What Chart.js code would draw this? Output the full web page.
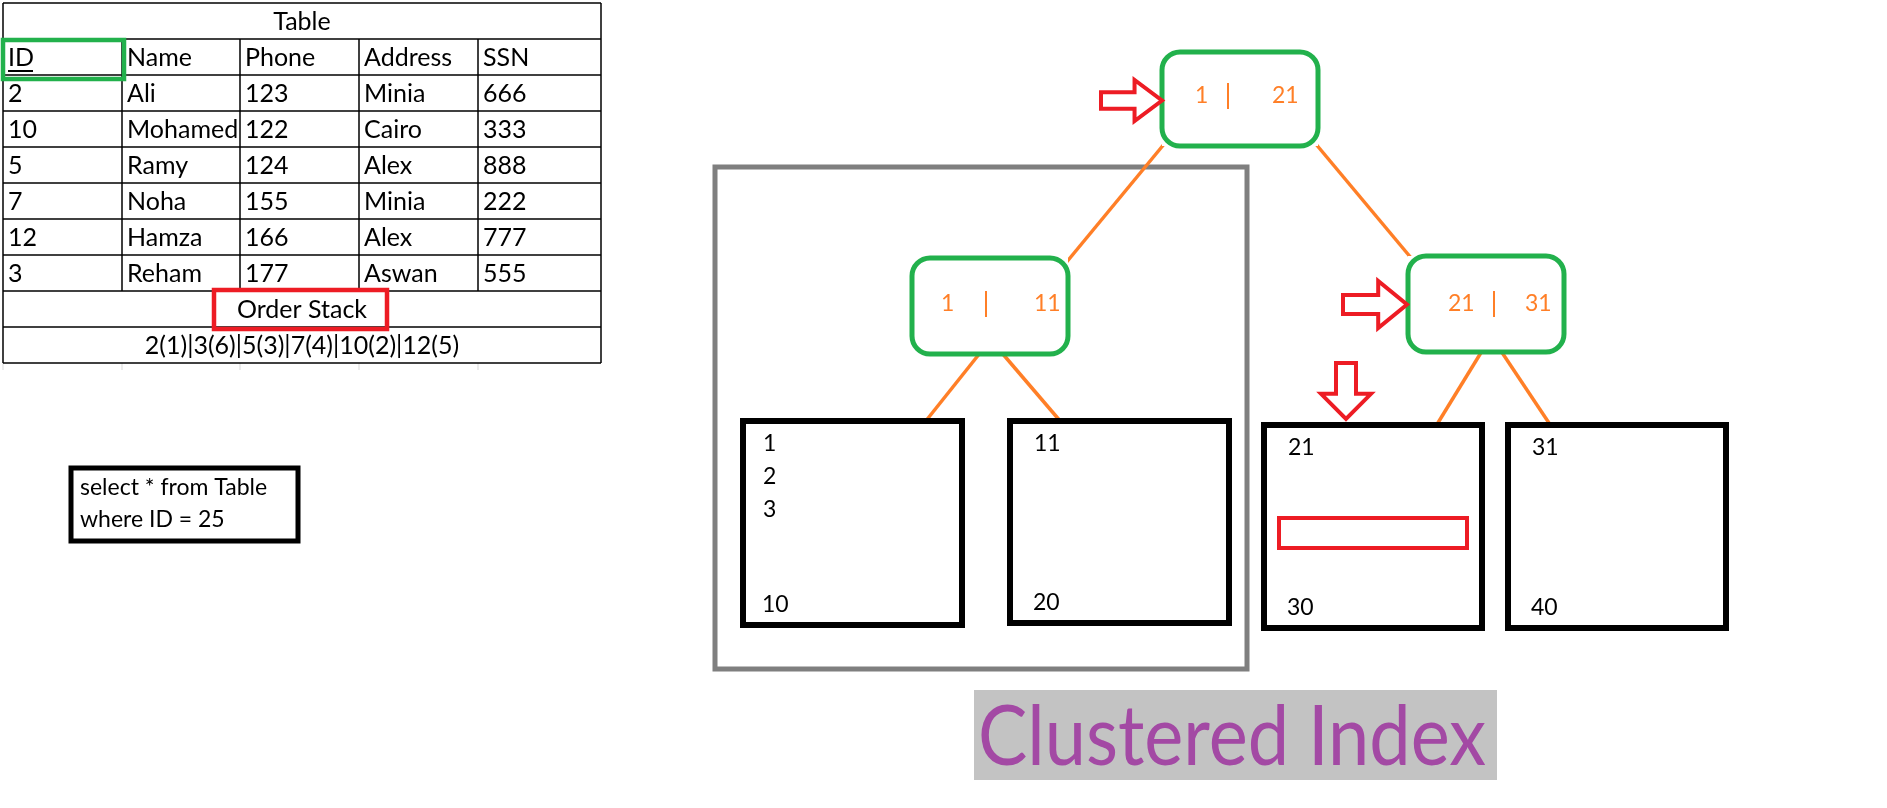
<!DOCTYPE html>
<html>
<head>
<meta charset="utf-8">
<script src="https://cdn.jsdelivr.net/npm/chart.js@4"></script>
<style>
  html,body{margin:0;padding:0;background:#fff;}
  #c{display:block;}
</style>
</head>
<body>
<canvas id="c" width="1887" height="808"></canvas>
<script>
/* ---------------- data ---------------- */
const tableTitle  = 'Table';
const columns     = ['ID','Name','Phone','Address','SSN'];
const rowIds      = ['2','10','5','7','12','3'];
const rowNames    = ['Ali','Mohamed','Ramy','Noha','Hamza','Reham'];
const rowPhones   = ['123','122','124','155','166','177'];
const rowAddress  = ['Minia','Cairo','Alex','Minia','Alex','Aswan'];
const rowSsn      = ['666','333','888','222','777','555'];
const stackLabel  = 'Order Stack';
const stackText   = '2(1)|3(6)|5(3)|7(4)|10(2)|12(5)';
const queryLines  = ['select * from Table','where ID = 25'];
const nodeKeys    = [['1','21'],['1','11'],['21','31']];
const leafTop     = [['1','2','3'],['11'],['21'],['31']];
const leafBottom  = ['10','20','30','40'];
const caption     = 'Clustered Index';

/* ---------------- layout (picture units) ---------------- */
const colX  = [3,122,240,359,478,601];
const rowY  = [3,39,75,111,147,183,219,255,291,327,363];
const nodes = [[1162,52,1318,146],[912,258,1068,354],[1408,256,1564,352]];
const nodeText = [[1195,1228,1272,96],[941,986,1034,304],[1448,1494,1525,304]];
const leaves = [[743,421,962,625],[1010,421,1229,623],[1264,425,1482,628],[1508,425,1726,628]];
const edges = [[1165,143,1065,264],[1315,143,1412,259],[980,353,925,422],[1002,353,1061,422],[1482,351,1436,426],[1501,351,1551,426]];

const GREEN='#22b14c', ORANGE='#ff7f27', RED='#ed1c24', GREY='#7f7f7f', PURPLE='#a349a4';
const FONT='Lato, "Open Sans", sans-serif';

const drawPlugin = {
  id:'diagram',
  afterDraw(chart){
    const ctx=chart.ctx, sx=chart.scales.x, sy=chart.scales.y;
    const X=v=>sx.getPixelForValue(v), Y=v=>sy.getPixelForValue(v);
    const rect=(x0,y0,x1,y1,col,w)=>{ctx.strokeStyle=col;ctx.lineWidth=w;ctx.strokeRect(X(x0),Y(y0),X(x1)-X(x0),Y(y1)-Y(y0));};
    const line=(x0,y0,x1,y1,col,w)=>{ctx.strokeStyle=col;ctx.lineWidth=w;ctx.beginPath();ctx.moveTo(X(x0),Y(y0));ctx.lineTo(X(x1),Y(y1));ctx.stroke();};
    const text=(s,x,y,size,col,align,maxW)=>{ctx.font=size+'px '+FONT;ctx.fillStyle=col;ctx.textAlign=align||'left';ctx.textBaseline='middle';
      if(maxW) ctx.fillText(s,X(x),Y(y),maxW); else ctx.fillText(s,X(x),Y(y));};
    const rrect=(x0,y0,x1,y1,r,col,w)=>{
      const a=X(x0),b=Y(y0),c=X(x1),d=Y(y1);
      ctx.strokeStyle=col;ctx.lineWidth=w;ctx.beginPath();
      ctx.moveTo(a+r,b);ctx.arcTo(c,b,c,d,r);ctx.arcTo(c,d,a,d,r);ctx.arcTo(a,d,a,b,r);ctx.arcTo(a,b,c,b,r);ctx.closePath();ctx.stroke();};
    const poly=(pts,col,w)=>{ctx.strokeStyle=col;ctx.lineWidth=w;ctx.lineJoin='miter';ctx.beginPath();
      pts.forEach((p,i)=>i?ctx.lineTo(X(p[0]),Y(p[1])):ctx.moveTo(X(p[0]),Y(p[1])));ctx.closePath();ctx.stroke();};
    const arrowRight=(x0,y0,x1,y1)=>{const w=x1-x0,h=y1-y0,m=(y0+y1)/2,sx2=x0+w*0.55;
      poly([[x0,m-h*0.2],[sx2,m-h*0.2],[sx2,y0],[x1,m],[sx2,y1],[sx2,m+h*0.2],[x0,m+h*0.2]],RED,4);};
    const arrowDown=(x0,y0,x1,y1)=>{const w=x1-x0,h=y1-y0,m=(x0+x1)/2,sy2=y0+h*0.55;
      poly([[m-w*0.2,y0],[m+w*0.2,y0],[m+w*0.2,sy2],[x1,sy2],[m,y1],[x0,sy2],[m-w*0.2,sy2]],RED,4);};

    ctx.save();
    ctx.lineCap='butt';
    /* faint sheet gridlines below table */
    colX.slice(0,5).forEach(x=>line(x,363,x,370,'#d9d9d9',1));
    /* table grid */
    rowY.forEach(y=>line(colX[0],y,colX[5],y,'#000',1.5));
    line(colX[0],rowY[0],colX[0],rowY[10],'#000',1.5);
    line(colX[5],rowY[0],colX[5],rowY[10],'#000',1.5);
    for(let i=1;i<5;i++) line(colX[i],rowY[1],colX[i],rowY[8],'#000',1.5);
    text(tableTitle,(colX[0]+colX[5])/2,rowY[0]+19,25,'#000','center');
    const rows=[columns,...rowIds.map((id,i)=>[id,rowNames[i],rowPhones[i],rowAddress[i],rowSsn[i]])];
    rows.forEach((r,ri)=>r.forEach((s,ci)=>text(s,colX[ci]+5,rowY[ri+1]+19,25,'#000','left',colX[ci+1]-colX[ci]-3)));
    /* underline ID */
    line(colX[0]+5,rowY[1]+32,colX[0]+30,rowY[1]+32,'#000',2);
    rect(3,40,124,79,GREEN,4.5);
    text(stackLabel,(colX[0]+colX[5])/2,rowY[8]+19,25,'#000','center');
    rect(214,290,387,329,RED,4.5);
    text(stackText,(colX[0]+colX[5])/2,rowY[9]+19,25,'#000','center',355);
    /* query box */
    rect(71,468,298,541,'#000',5);
    queryLines.forEach((s,i)=>text(s,80,488+i*32,23,'#000','left',210));
    /* grey subtree box */
    rect(715,167,1247,669,GREY,5);
    /* edges */
    edges.forEach(e=>line(e[0],e[1],e[2],e[3],ORANGE,3.5));
    /* nodes */
    nodes.forEach((n,i)=>{
      ctx.fillStyle='#fff';ctx.fillRect(X(n[0]),Y(n[1]),X(n[2])-X(n[0]),Y(n[3])-Y(n[1]));
      rrect(n[0],n[1],n[2],n[3],18,GREEN,5);
      const t=nodeText[i];
      text(nodeKeys[i][0],t[0],t[3],23,ORANGE,'left');
      line(t[1],t[3]-13,t[1],t[3]+13,ORANGE,2);
      text(nodeKeys[i][1],t[2],t[3],23,ORANGE,'left');
    });
    /* leaves */
    leaves.forEach((l,i)=>{
      rect(l[0],l[1],l[2],l[3],'#000',6);
      const tx=i===0?l[0]+20:l[0]+24;
      leafTop[i].forEach((s,k)=>text(s,tx,l[1]+23+k*33,23,'#000','left'));
      text(leafBottom[i],tx-1,l[3]-20,23,'#000','left');
    });
    rect(1279,518,1467,548,RED,4);
    /* red arrows */
    arrowRight(1101,80,1162,121);
    arrowRight(1343,281,1407,328);
    arrowDown(1321,363,1371,419);
    /* caption */
    ctx.fillStyle='#c3c3c3';ctx.fillRect(X(974),Y(690),X(1497)-X(974),Y(780)-Y(690));
    text(caption,978,738,84,PURPLE,'left',508);
    ctx.restore();
  }
};

new Chart(document.getElementById('c'),{
  type:'scatter',
  data:{datasets:[{data:[],pointRadius:0}]},
  options:{
    responsive:false,animation:false,devicePixelRatio:1,
    layout:{padding:0},
    plugins:{legend:{display:false},tooltip:{enabled:false}},
    scales:{
      x:{type:'linear',min:0,max:1887,display:false},
      y:{type:'linear',min:0,max:808,reverse:true,display:false}
    }
  },
  plugins:[drawPlugin]
});
</script>
</body>
</html>
